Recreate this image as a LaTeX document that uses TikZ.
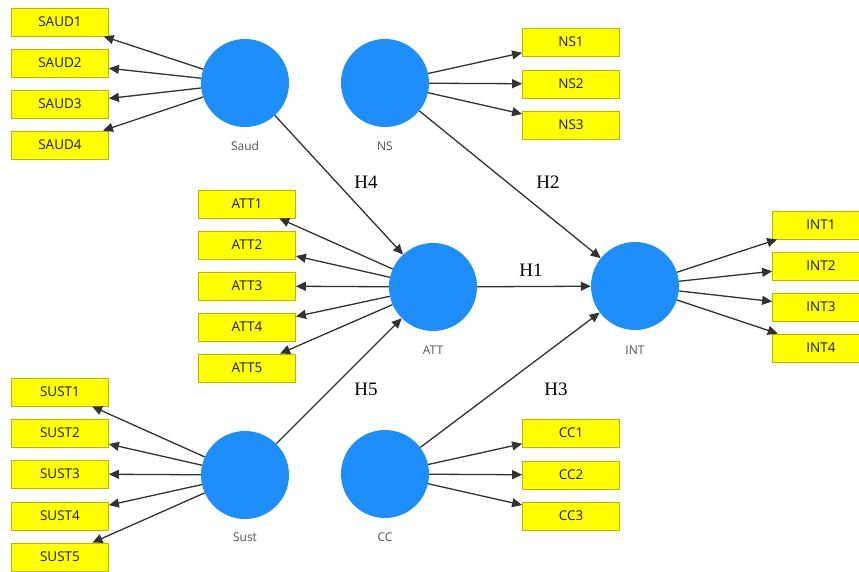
\documentclass[tikz,border=0pt]{standalone}
\usepackage{fontspec}
\setmainfont{Liberation Serif}
\newfontfamily\uifont{Open Sans}
\usetikzlibrary{arrows.meta}
\definecolor{lvblue}{RGB}{30,142,250}
\definecolor{indyellow}{RGB}{255,255,0}
\definecolor{indedge}{RGB}{190,180,0}
\definecolor{linkgray}{RGB}{50,50,50}
\definecolor{labelgray}{RGB}{80,80,80}
\begin{document}
\begin{tikzpicture}[x=1pt,y=-1pt,
  latent/.style={circle,fill=lvblue,draw=none,minimum size=88pt,inner sep=0pt},
  indicator/.style={rectangle,fill=indyellow,draw=indedge,line width=0.8pt,
    minimum width=97pt,minimum height=28pt,inner sep=0pt,
    font=\uifont\fontsize{13.5}{13.5}\selectfont,text=black!90},
  lvname/.style={font=\uifont\fontsize{12}{12}\selectfont,text=labelgray},
  hyp/.style={font=\fontsize{19}{19}\selectfont},
  link/.style={draw=linkgray,line width=1.3pt,-{Triangle[length=10pt,width=9pt]}}
]
\fill[white] (0,0) rectangle (859,572);
\clip (0,0) rectangle (859,572);

% latent variables
\node[latent] (saud) at (245,83) {};
\node[latent] (ns)   at (385,83) {};
\node[latent] (att)  at (433,287) {};
\node[latent] (int)  at (635,286) {};
\node[latent] (sust) at (245,475) {};
\node[latent] (cc)   at (385,474) {};

\node[lvname] (saudname) at (245,146) {Saud};
\node[lvname] (nsname)   at (385,146) {NS};
\node[lvname] (attname)  at (433,350) {ATT};
\node[lvname] (intname)  at (635,350) {INT};
\node[lvname] (sustname) at (245,537) {Sust};
\node[lvname] (ccname)   at (385,537) {CC};

% indicators
\node[indicator] (saud1) at (60,22)  {SAUD1};
\node[indicator] (saud2) at (60,63)  {SAUD2};
\node[indicator] (saud3) at (60,104) {SAUD3};
\node[indicator] (saud4) at (60,145) {SAUD4};

\node[indicator] (ns1) at (571,42)  {NS1};
\node[indicator] (ns2) at (571,84)  {NS2};
\node[indicator] (ns3) at (571,125) {NS3};

\node[indicator] (att1) at (247,204) {ATT1};
\node[indicator] (att2) at (247,245) {ATT2};
\node[indicator] (att3) at (247,286) {ATT3};
\node[indicator] (att4) at (247,327) {ATT4};
\node[indicator] (att5) at (247,368) {ATT5};

\node[indicator] (int1) at (821,225) {INT1};
\node[indicator] (int2) at (821,266) {INT2};
\node[indicator] (int3) at (821,307) {INT3};
\node[indicator] (int4) at (821,348) {INT4};

\node[indicator] (sust1) at (60,392) {SUST1};
\node[indicator] (sust2) at (60,433) {SUST2};
\node[indicator] (sust3) at (60,474) {SUST3};
\node[indicator] (sust4) at (60,516) {SUST4};
\node[indicator] (sust5) at (60,557) {SUST5};

\node[indicator] (cc1) at (571,433) {CC1};
\node[indicator] (cc2) at (571,475) {CC2};
\node[indicator] (cc3) at (571,516) {CC3};

% outer loadings
\foreach \i in {1,...,4} \draw[link] (saud) -- (saud\i);
\foreach \i in {1,...,3} \draw[link] (ns) -- (ns\i);
\foreach \i in {1,...,5} \draw[link] (att) -- (att\i);
\foreach \i in {1,...,4} \draw[link] (int) -- (int\i);
\foreach \i in {1,...,5} \draw[link] (sust) -- (sust\i);
\foreach \i in {1,...,3} \draw[link] (cc) -- (cc\i);

% structural paths
\draw[link] (saud) -- (att);
\draw[link] (ns) -- (int);
\draw[link] (att) -- (int);
\draw[link] (sust) -- (att);
\draw[link] (cc) -- (int);

\node[hyp] (h4) at (366,182) {H4};
\node[hyp] (h2) at (548,182) {H2};
\node[hyp] (h1) at (531,270) {H1};
\node[hyp] (h5) at (366,389) {H5};
\node[hyp] (h3) at (556,389) {H3};
\end{tikzpicture}
\end{document}
